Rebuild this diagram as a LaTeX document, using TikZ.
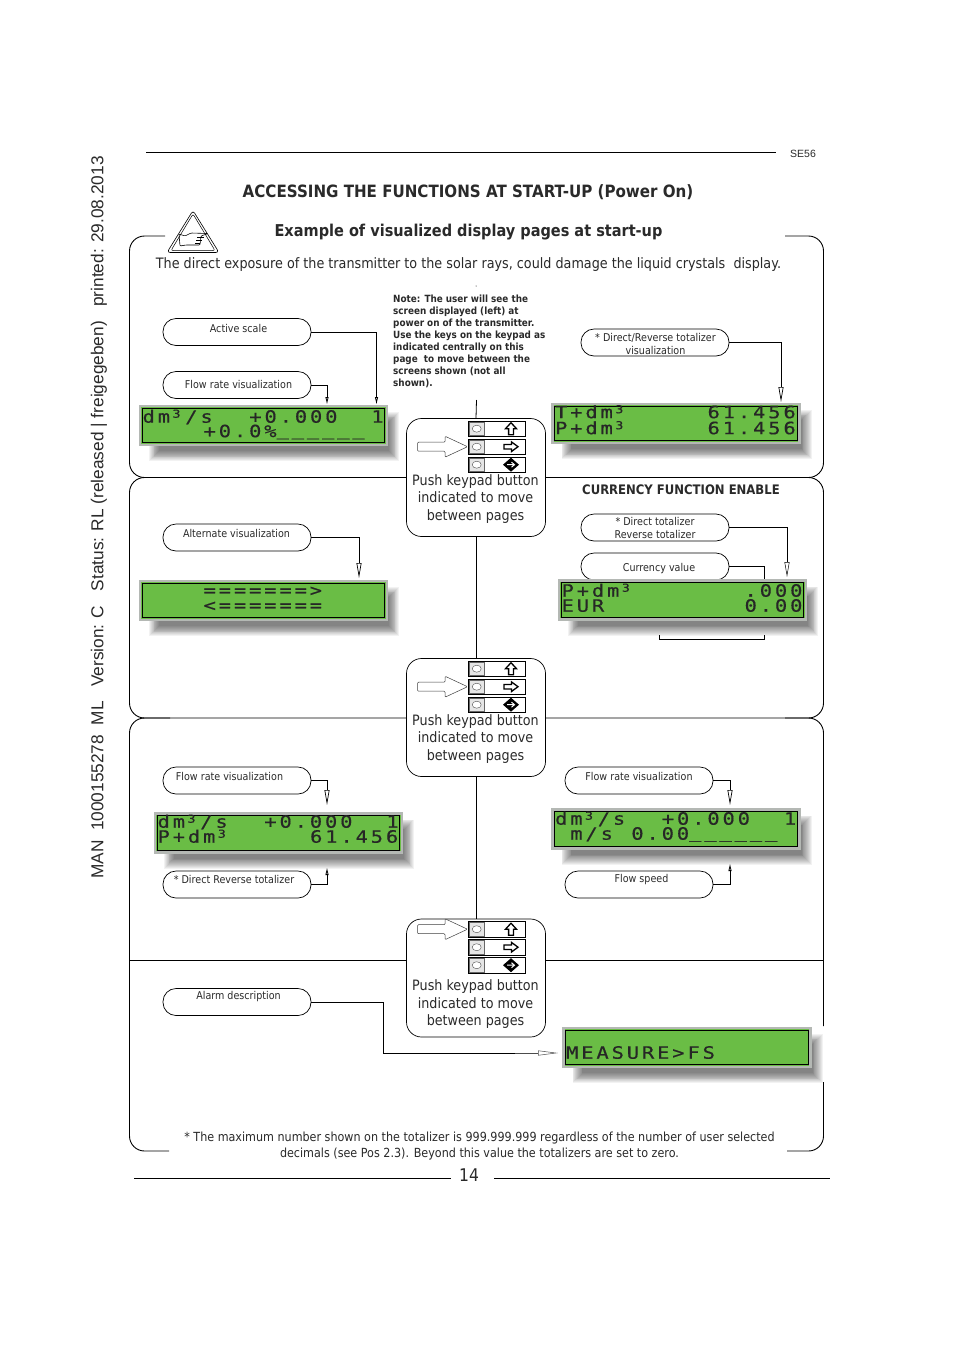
\documentclass[tikz,border=0pt]{standalone}
\usepackage{fontspec}
\usepackage{tikz}
\usetikzlibrary{arrows.meta, calc}
\setmainfont{DejaVu Sans}[FakeStretch=0.89]
\newfontfamily\arialfont{Liberation Sans}
\newfontfamily\lcdfont{DejaVu Sans Mono}[FakeStretch=1.2,LetterSpace=17,FakeBold=0.5]
\definecolor{LcdGreen}{HTML}{6ABD45}
\definecolor{LcdEdge}{HTML}{B4B8B4}
\definecolor{InkDark}{HTML}{2A2A2A}
\tikzset{
  pill/.style={draw=black, line width=0.7pt, fill=white, rounded corners=13pt, minimum width=148pt, minimum height=27pt, inner sep=0pt},
  pilltext/.style={text=InkDark, align=center, inner sep=0pt, font=\fontsize{10.75}{13}\selectfont},
  keybox/.style={draw=black, line width=0.7pt, fill=white, rounded corners=15pt, minimum width=139pt, minimum height=118pt, inner sep=0pt},
  keytext/.style={text=InkDark, align=center, inner sep=0pt, font=\fontsize{14.3}{17.5}\selectfont},
  lcdbox/.style={draw=LcdEdge, line width=2.2pt, fill=LcdGreen, anchor=north west, outer sep=0pt, minimum width=247pt, minimum height=39pt, inner sep=0pt},
  lcdtext/.style={anchor=base west, inner sep=0pt, text height=11pt, text depth=0pt, text=black!85, font=\lcdfont\fontsize{17}{17}\selectfont},
  frameline/.style={line width=0.9pt, rounded corners=15pt},
  wire/.style={line width=0.8pt},
  tipline/.style={line width=0.7pt, -{Triangle[open, length=15pt, width=5pt]}},
  tipsmall/.style={line width=0.8pt, -{Triangle[open, length=7pt, width=3pt]}},
  headtext/.style={text=InkDark, inner sep=0pt, font=\bfseries\fontsize{16.3}{20}\selectfont}
}
\newcommand{\lcdcube}{\makebox[15.25pt][l]{\hspace{2.5pt}\raisebox{5pt}{\fontsize{11}{11}\selectfont 3}}}
\newcommand{\lcdbars}{\raisebox{1.8pt}{\_\_\_\_\_\_}}
% panel with its soft shadow: name, left, top
\newcommand{\lcdpanel}[3]{
  \foreach \s in {0,...,11}
    \fill[black, opacity=0.05] ({#2+9+0.9*\s},{#3+6+0.9*\s}) rectangle ({#2+247+12-0.9*\s},{#3+39+16-0.9*\s});
  \node[lcdbox] (#1) at (#2,#3) {};
  \draw[line width=0.9pt, black] ($(#1.north west)+(2.1,2.1)$) rectangle ($(#1.south east)+(-2.1,-2.1)$);
}
% text on the character grid: panel, column, baseline below panel top, text
\newcommand{\lcdrow}[4]{
  \node[lcdtext] (#1-#2-#3) at ($(#1.north west)+({2.4+#2*15.25},#3-0.8)$) {#4};
}
% keypad strip: top of the strip, row that the hollow arrow points at
\newcommand{\keystrip}[2]{
  \foreach \r in {0,1,2} {
    \draw[line width=0.9pt] (468.5,{#1+\r*18}) rectangle (525.5,{#1+\r*18+15.5});
    \draw[line width=0.4pt, draw=black!60, fill=black!10] (469.5,{#1+\r*18+1}) rectangle (484,{#1+\r*18+14.5});
    \draw[line width=0.4pt, draw=black!70, fill=white] (476.7,{#1+\r*18+7.7}) ellipse (4.5pt and 3.5pt);
  }
  \draw[line width=1.3pt, fill=white, shift={(511,#1+7.7)}] (0,-6) -- (5.5,0) -- (2.4,0) -- (2.4,6) -- (-2.4,6) -- (-2.4,0) -- (-5.5,0) -- cycle;
  \draw[line width=1.3pt, fill=white, shift={(511,#1+25.7)}] (7,0) -- (0.5,-4.8) -- (0.5,-2.2) -- (-7,-2.2) -- (-7,2.2) -- (0.5,2.2) -- (0.5,4.8) -- cycle;
  \fill[shift={(511,#1+43.7)}] (0,-7) -- (8,0) -- (0,7) -- (-8,0) -- cycle;
  \draw[line width=1pt, white, shift={(511,#1+43.7)}] (-4,0) -- (3,0) (0.5,-2.5) -- (3.5,0) -- (0.5,2.5);
  \draw[line width=0.5pt, black!75, fill=white, rounded corners=1pt, shift={(0,#1+#2*18+7.7)}] (445,-4.5) -- (445,-10.5) -- (467.5,0) -- (445,10.5) -- (445,4.5) -- (417.5,4.5) -- (417.5,-4.5) -- cycle;
}
\begin{document}
\begin{tikzpicture}[x=1pt, y=-1pt]
\useasboundingbox[fill=white] (0,0) rectangle (954,1352);

% page furniture
\node[rotate=90, text=InkDark, inner sep=0pt, font=\arialfont\fontsize{17.27}{20}\selectfont] (sideLine) at (99,517.5) {MAN\ \ 1000155278\ \ ML\ \ \ Version: C\ \ \ Status: RL (released | freigegeben)\ \ \ printed: 29.08.2013};
\draw[line width=0.8pt] (146,152.5) -- (776,152.5);
\node[text=InkDark, inner sep=0pt, font=\arialfont\fontsize{10.5}{12}\selectfont] (pageCode) at (803,153.5) {SE56};
\node[headtext, font=\bfseries\fontsize{16.96}{20}\selectfont] (mainTitle) at (468,192) {ACCESSING THE FUNCTIONS AT START-UP (Power On)};
\node[headtext] (subTitle) at (468.5,232.5) {Example of visualized display pages at start-up};
\node[text=InkDark, inner sep=0pt, font=\fontsize{14.35}{17}\selectfont] (warnLine) at (468.5,264.5) {The direct exposure of the transmitter to the solar rays, could damage the liquid crystals\ \ display.};
\draw[line width=0.8pt] (134,1178) -- (451,1178) (494,1178) -- (830,1178);
\node[text=InkDark, inner sep=0pt, font=\fontsize{17.5}{20}\selectfont] (pageNumber) at (469,1175) {14};

% section frames
\draw[frameline] (165,236) -- (129.5,236) -- (129.5,477.5) -- (420,477.5);
\draw[frameline] (170,477.5) -- (129.5,477.5) -- (129.5,718) -- (420,718);
\draw[frameline] (170,718) -- (129.5,718) -- (129.5,1151) -- (169,1151);
\draw[frameline] (785,236) -- (823.5,236) -- (823.5,477.5) -- (530,477.5);
\draw[frameline] (785,477.5) -- (823.5,477.5) -- (823.5,718) -- (530,718);
\draw[frameline] (785,718) -- (823.5,718) -- (823.5,1026);
\draw[frameline] (823.5,1082) -- (823.5,1151) -- (787,1151);
\draw[line width=0.9pt] (129.5,960) -- (823.5,960);

% warning sign
\draw[line width=0.6pt, fill=white, rounded corners=3pt] (193,210.5) -- (219,252.5) -- (167,252.5) -- cycle;
\draw[line width=0.5pt, rounded corners=2pt] (193,214) -- (215,250.5) -- (171,250.5) -- cycle;
\draw[line width=0.6pt, rounded corners=1pt] (179,234) -- (185,236) -- (191,233) -- (208,233.5) -- (201,236) -- (200,245) -- (186,245) -- (180,246) -- cycle;
\draw[line width=0.5pt] (197,237) -- (204,237) (196,240) -- (202,240) (195,243) -- (200,243);

% keypad boxes and the spine between them
\coordinate (spineTop) at (476.5,400);
\node[keybox] (keyBoxA) at (476,477.5) {};
\node[keybox] (keyBoxB) at (476,717.5) {};
\node[keybox] (keyBoxC) at (476,978) {};
\draw[wire] (spineTop) -- (keyBoxA.north);
\draw[wire] (keyBoxA.south) -- (keyBoxB.north);
\draw[wire] (keyBoxB.south) -- (keyBoxC.north);
\keystrip{421}{1}
\keystrip{661}{1}
\keystrip{921.5}{0}
\node[keytext] (keyTextA) at (475.5,499) {Push keypad button\\indicated to move\\between pages};
\node[keytext] (keyTextB) at (475.5,739) {Push keypad button\\indicated to move\\between pages};
\node[keytext] (keyTextC) at (475.5,1004.5) {Push keypad button\\indicated to move\\between pages};

\fill (476,286) circle (0.5pt);
\node[anchor=north west, align=left, text=InkDark, inner sep=0pt, font=\bfseries\fontsize{9.93}{12}\selectfont] (noteText) at (393,295) {Note: The user will see the\\screen displayed (left) at\\power on of the transmitter.\\Use the keys on the keypad as\\indicated centrally on this\\page\ \ to move between the\\screens shown (not all\\shown).};

% callouts
\node[pill] (activeScale) at (237,332) {};
\node[pill] (flowRateA) at (237,385) {};
\node[pill] (totalizerA) at (655,342.5) {};
\node[pill] (altView) at (237,537.5) {};
\node[pill] (totalizerB) at (655,527.5) {};
\node[pill] (currencyValue) at (655,566.5) {};
\node[pill] (flowRateB) at (237,780.5) {};
\node[pill] (totalizerC) at (237,884.5) {};
\node[pill] (flowRateC) at (639,780.5) {};
\node[pill] (flowSpeed) at (639,884.5) {};
\node[pill] (alarmDesc) at (237,1002) {};
\node[pilltext] (activeScaleText) at (238.5,328.5) {Active scale};
\node[pilltext] (flowRateAText) at (238.5,384.5) {Flow rate visualization};
\node[pilltext] (totalizerAText) at (655.5,343.5) {* Direct/Reverse totalizer\\visualization};
\node[pilltext] (altViewText) at (236.5,533.5) {Alternate visualization};
\node[pilltext] (totalizerBText) at (655,527.5) {* Direct totalizer\\Reverse totalizer};
\node[pilltext] (currencyValueText) at (659,568.5) {Currency value};
\node[pilltext] (flowRateBText) at (229.5,776.5) {Flow rate visualization};
\node[pilltext] (totalizerCText) at (234,879.5) {* Direct Reverse totalizer};
\node[pilltext] (flowRateCText) at (639,776.5) {Flow rate visualization};
\node[pilltext] (flowSpeedText) at (641.5,879.5) {Flow speed};
\node[pilltext] (alarmDescText) at (238.5,996.5) {Alarm description};
\node[inner sep=0pt, text=InkDark, font=\bfseries\fontsize{13.1}{14}\selectfont] (currencyTitle) at (681,490) {CURRENCY FUNCTION ENABLE};

% connectors to the panels
\coordinate (activeTip) at (376.5,404);
\coordinate (flowTipA) at (327,404);
\coordinate (totalTipA) at (781,402);
\coordinate (altTip) at (359,578);
\coordinate (totalTipB) at (787,577);
\coordinate (currencyTip) at (764.5,579);
\coordinate (flowTipB) at (327,805);
\coordinate (totalTipC) at (327,868);
\coordinate (flowTipC) at (730,805);
\coordinate (speedTip) at (730,864);
\coordinate (alarmBendA) at (383.5,1002);
\coordinate (alarmBendB) at (383.5,1053);
\coordinate (alarmTip) at (558,1053);
\draw[tipsmall] (activeScale.east) -| (activeTip);
\draw[tipsmall] (flowRateA.east) -| (flowTipA);
\draw[tipline] (totalizerA.east) -| (totalTipA);
\draw[tipline] (altView.east) -| (altTip);
\draw[tipline, line width=0.5pt] (totalizerB.east) -| (totalTipB);
\draw[wire] (currencyValue.east) -| (currencyTip);
\draw[tipline] (flowRateB.east) -| (flowTipB);
\draw[tipsmall] (totalizerC.east) -| (totalTipC);
\draw[tipline] (flowRateC.east) -| (flowTipC);
\draw[tipsmall] (flowSpeed.east) -| (speedTip);
\draw[wire] (alarmDesc.east) -- (alarmBendA) -- (alarmBendB) -- (520,1053);
\draw[line width=0.5pt, black!70, -{Triangle[open, length=20pt, width=5pt]}] (515,1053) -- (alarmTip);
\draw[wire] (659.5,635) -- (659.5,639) -- (764.5,639) -- (764.5,635);

% displays
\lcdpanel{panelA}{140}{406}
\lcdrow{panelA}{0}{17.5}{dm\lcdcube/s}
\lcdrow{panelA}{7}{17.5}{+0.000}
\lcdrow{panelA}{15}{17.5}{1}
\lcdrow{panelA}{4}{32}{+0.0\%\lcdbars}
\lcdpanel{panelB}{552.5}{404}
\lcdrow{panelB}{0}{15}{T+dm\lcdcube}
\lcdrow{panelB}{10}{15}{61.456}
\lcdrow{panelB}{0}{31}{P+dm\lcdcube}
\lcdrow{panelB}{10}{31}{61.456}
\lcdpanel{panelC}{140}{581}
\lcdrow{panelC}{4}{16}{=======>}
\lcdrow{panelC}{4}{31}{<=======}
\lcdpanel{panelD}{559}{580.5}
\lcdrow{panelD}{0}{17}{P+dm\lcdcube}
\lcdrow{panelD}{12}{17}{.000}
\lcdrow{panelD}{0}{32}{EUR}
\lcdrow{panelD}{12}{32}{0.00}
\lcdpanel{panelE}{155}{813.5}
\lcdrow{panelE}{0}{15}{dm\lcdcube/s}
\lcdrow{panelE}{7}{15}{+0.000}
\lcdrow{panelE}{15}{15}{1}
\lcdrow{panelE}{0}{30}{P+dm\lcdcube}
\lcdrow{panelE}{10}{30}{61.456}
\lcdpanel{panelF}{552.5}{809.5}
\lcdrow{panelF}{0}{16}{dm\lcdcube/s}
\lcdrow{panelF}{7}{16}{+0.000}
\lcdrow{panelF}{15}{16}{1}
\lcdrow{panelF}{1}{31}{m/s}
\lcdrow{panelF}{5}{31}{0.00\lcdbars}
\lcdpanel{panelG}{563.5}{1028}
\lcdrow{panelG}{0}{31.5}{MEASURE>FS}

% closing note
\node[text=InkDark, align=center, inner sep=0pt, font=\fontsize{12.55}{16}\selectfont] (footNote) at (479.5,1146) {* The maximum number shown on the totalizer is 999.999.999 regardless of the number of user selected\\decimals (see Pos 2.3). Beyond this value the totalizers are set to zero.};
\end{tikzpicture}
\end{document}
